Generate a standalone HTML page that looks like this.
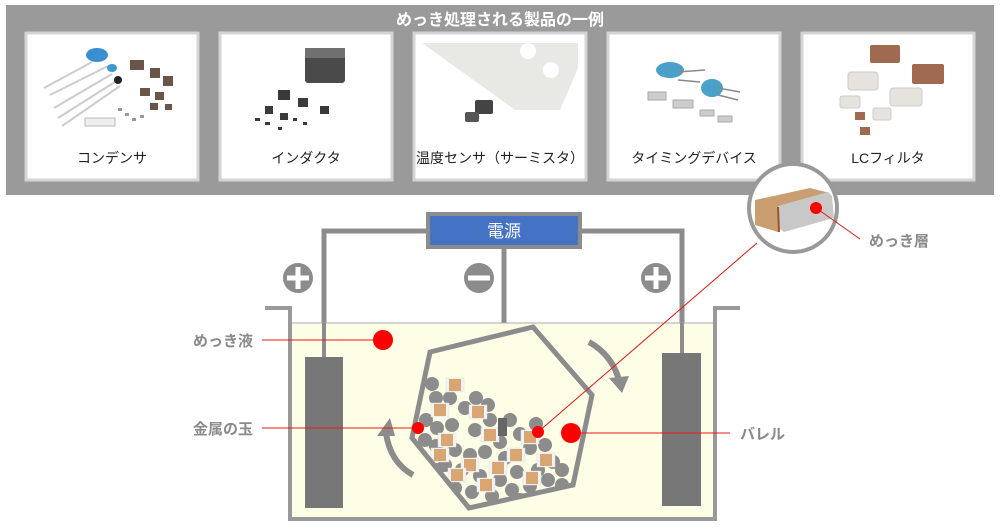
<!DOCTYPE html>
<html><head><meta charset="utf-8"><style>
html,body{margin:0;padding:0;background:#fff;}
svg{display:block;font-family:"Liberation Sans","Noto Sans CJK JP",sans-serif;}
</style></head><body>
<svg width="1000" height="529" viewBox="0 0 1000 529" xmlns="http://www.w3.org/2000/svg">
<defs>
<clipPath id="bc"><polygon points="430,352 533,327 592,395 573,485 469,508 412,438"/></clipPath>
<g id="chip"><rect x="-9" y="-7" width="18" height="14" fill="#f4f4f6" stroke="#ddd" stroke-width="0.5"/><rect x="-6" y="-6" width="12" height="12" fill="#d9a672"/></g>
</defs>
<!-- banner -->
<rect x="6" y="5" width="988" height="190" fill="#9a9a9a"/>
<text x="500" y="25" text-anchor="middle" font-size="16" font-weight="bold" fill="#fff">めっき処理される製品の一例</text>
<g fill="#fff" stroke="#d4d4d4" stroke-width="3">
<rect x="26" y="33" width="172" height="147"/>
<rect x="220" y="33" width="172" height="147"/>
<rect x="414" y="33" width="172" height="147"/>
<rect x="608" y="33" width="172" height="147"/>
<rect x="802" y="33" width="172" height="147"/>
</g>
<g font-size="14" fill="#222" text-anchor="middle">
<text x="112" y="163">コンデンサ</text>
<text x="306" y="163">インダクタ</text>
<text x="500" y="163">温度センサ（サーミスタ）</text>
<text x="694" y="163">タイミングデバイス</text>
<text x="888" y="163">LCフィルタ</text>
</g>
<!-- card1 products -->
<g stroke="#ccc" stroke-width="2"><line x1="44" y1="88" x2="92" y2="62"/><line x1="50" y1="95" x2="108" y2="66"/><line x1="54" y1="108" x2="112" y2="74"/><line x1="58" y1="118" x2="118" y2="80"/><line x1="62" y1="126" x2="120" y2="86"/></g>
<ellipse cx="97" cy="55" rx="11" ry="7" fill="#3a8fd0"/><ellipse cx="112" cy="68" rx="5" ry="4" fill="#3a9ad0"/><ellipse cx="118" cy="80" rx="4" ry="4" fill="#222"/>
<g fill="#6a5548"><rect x="130" y="60" width="14" height="10"/><rect x="150" y="68" width="10" height="10"/><rect x="163" y="76" width="10" height="10"/><rect x="140" y="88" width="10" height="8"/><rect x="155" y="92" width="9" height="8"/><rect x="150" y="103" width="8" height="7"/><rect x="165" y="104" width="7" height="6"/></g>
<rect x="85" y="118" width="30" height="8" fill="#eee" stroke="#bbb"/>
<g fill="#999"><rect x="118" y="108" width="4" height="3"/><rect x="125" y="113" width="4" height="3"/><rect x="132" y="118" width="4" height="3"/><rect x="140" y="115" width="4" height="3"/></g>
<!-- card2 -->
<rect x="305" y="48" width="40" height="35" rx="3" fill="#4a4a4a"/><rect x="305" y="48" width="40" height="10" fill="#707070"/>
<g fill="#3a3a3a"><rect x="278" y="90" width="12" height="10"/><rect x="298" y="98" width="10" height="9"/><rect x="320" y="106" width="9" height="8"/><rect x="265" y="106" width="8" height="8"/><rect x="280" y="113" width="8" height="7"/><rect x="255" y="118" width="5" height="3"/><rect x="265" y="122" width="5" height="3"/><rect x="293" y="118" width="4" height="3"/><rect x="303" y="122" width="4" height="3"/><rect x="278" y="127" width="4" height="3"/></g>
<!-- card3 -->
<polygon points="422,43 578,43 578,68 560,110 515,110" fill="#e8e8e4"/>
<circle cx="528" cy="51" r="8" fill="#fff"/><circle cx="551" cy="70" r="8" fill="#fff"/>
<rect x="475" y="100" width="18" height="14" rx="2" fill="#444"/><rect x="465" y="112" width="14" height="10" rx="2" fill="#555"/>
<!-- card4 -->
<ellipse cx="670" cy="70" rx="14" ry="8" fill="#4aa0c8"/><ellipse cx="712" cy="88" rx="11" ry="9" fill="#4aa0c8"/>
<g stroke="#888" stroke-width="1.5"><line x1="678" y1="72" x2="705" y2="70"/><line x1="678" y1="80" x2="700" y2="82"/><line x1="718" y1="88" x2="740" y2="92"/><line x1="718" y1="95" x2="738" y2="100"/></g>
<g fill="#ccc" stroke="#aaa"><rect x="648" y="92" width="18" height="8"/><rect x="673" y="100" width="20" height="8"/><rect x="700" y="110" width="14" height="6"/><rect x="718" y="116" width="14" height="6"/></g>
<!-- card5 -->
<g fill="#a06a50"><rect x="870" y="45" width="30" height="18" rx="2"/><rect x="912" y="64" width="32" height="20" rx="2"/><rect x="855" y="112" width="10" height="8"/><rect x="860" y="127" width="10" height="8"/></g>
<g fill="#e6e3df" stroke="#ccc"><rect x="848" y="72" width="30" height="18" rx="3"/><rect x="890" y="88" width="32" height="18" rx="3"/><rect x="840" y="96" width="20" height="12" rx="2"/><rect x="873" y="108" width="18" height="12" rx="2"/></g>
<!-- power -->
<g fill="none" stroke="#8c8c8c" stroke-width="5">
<polyline points="324,357 324,231 429,231"/><polyline points="580,231 682,231 682,353"/>
<line x1="504" y1="248" x2="504" y2="417"/>
</g>
<rect x="428" y="214" width="152" height="33" fill="#4472c4" stroke="#8c8c8c" stroke-width="4"/>
<text x="504" y="237" text-anchor="middle" font-size="17" fill="#fff">電源</text>
<!-- tank -->
<rect x="291" y="323" width="423" height="195" fill="#fefee6"/>
<line x1="291" y1="323" x2="714" y2="323" stroke="#aaa" stroke-width="1"/>
<polyline points="265,308 290,308 290,519 715,519 715,308 740,308" fill="none" stroke="#999" stroke-width="4"/>
<g fill="none" stroke="#8c8c8c" stroke-width="4"><line x1="324" y1="323" x2="324" y2="357"/><line x1="682" y1="323" x2="682" y2="353"/></g>
<rect x="305" y="357" width="38" height="151" fill="#777"/>
<rect x="662" y="353" width="39" height="153" fill="#777"/>
<!-- signs -->
<g fill="#8c8c8c"><circle cx="298" cy="278" r="15"/><circle cx="479" cy="278" r="15"/><circle cx="656" cy="278" r="15"/></g>
<g fill="#fff"><rect x="287" y="275.5" width="22" height="5"/><rect x="295.5" y="267" width="5" height="22"/><rect x="468" y="275.5" width="22" height="5"/><rect x="645" y="275.5" width="22" height="5"/><rect x="653.5" y="267" width="5" height="22"/></g>
<!-- particles -->
<g clip-path="url(#bc)">
<g fill="#8c8c8c">
<circle cx="432" cy="384" r="7"/><circle cx="436" cy="398" r="7"/><circle cx="476" cy="398" r="7"/><circle cx="450" cy="398" r="7"/><circle cx="488" cy="405" r="7"/><circle cx="465" cy="408" r="7"/><circle cx="510" cy="420" r="7"/><circle cx="426" cy="420" r="7"/><circle cx="437" cy="428" r="7"/><circle cx="452" cy="425" r="7"/><circle cx="490" cy="420" r="7"/><circle cx="475" cy="430" r="7"/><circle cx="520" cy="434" r="7"/><circle cx="500" cy="442" r="7"/><circle cx="536" cy="424" r="7"/><circle cx="436" cy="446" r="7"/><circle cx="455" cy="450" r="7"/><circle cx="485" cy="452" r="7"/><circle cx="505" cy="458" r="7"/><circle cx="530" cy="448" r="7"/><circle cx="545" cy="445" r="7"/><circle cx="553" cy="462" r="7"/><circle cx="538" cy="470" r="7"/><circle cx="445" cy="465" r="7"/><circle cx="462" cy="470" r="7"/><circle cx="480" cy="476" r="7"/><circle cx="500" cy="480" r="7"/><circle cx="517" cy="472" r="7"/><circle cx="455" cy="488" r="7"/><circle cx="472" cy="492" r="7"/><circle cx="492" cy="496" r="7"/><circle cx="512" cy="490" r="7"/><circle cx="530" cy="486" r="7"/><circle cx="548" cy="480" r="7"/><circle cx="562" cy="470" r="7"/><circle cx="437" cy="470" r="7"/><circle cx="470" cy="455" r="7"/><circle cx="425" cy="440" r="7"/><circle cx="562" cy="485" r="7"/><circle cx="520" cy="500" r="7"/>
</g>
<use href="#chip" x="455" y="385"/><use href="#chip" x="440" y="410"/><use href="#chip" x="478" y="412"/><use href="#chip" x="447" y="440"/><use href="#chip" x="490" y="435"/><use href="#chip" x="516" y="455"/><use href="#chip" x="470" y="465"/><use href="#chip" x="498" y="468"/><use href="#chip" x="530" y="437"/><use href="#chip" x="546" y="460"/><use href="#chip" x="532" y="478"/><use href="#chip" x="486" y="485"/><use href="#chip" x="457" y="475"/><use href="#chip" x="440" y="455"/>
<rect x="498" y="418" width="9" height="18" fill="#666"/>
</g>
<polygon points="430,352 533,327 592,395 573,485 469,508 412,438" fill="none" stroke="#8c8c8c" stroke-width="5"/>
<!-- rotation arrows -->
<path d="M589,342 Q612,355 619,380" fill="none" stroke="#8c8c8c" stroke-width="6"/>
<polygon points="609,378 629,376 622,393" fill="#8c8c8c"/>
<path d="M413,475 Q390,462 386,433" fill="none" stroke="#8c8c8c" stroke-width="6"/>
<polygon points="377,436 395,436 390,418" fill="#8c8c8c"/>
<!-- callout -->
<circle cx="793" cy="208" r="44" fill="#fff" stroke="#999" stroke-width="4"/>
<polygon points="755,200 810,188 830,193 780,208 778,232 755,225" fill="#c99e70"/>
<polygon points="778,206 828,192 832,196 834,218 784,232 778,228" fill="#c8c8c8"/>
<line x1="778" y1="207" x2="779" y2="232" stroke="#a0522d" stroke-width="2"/>
<!-- red lines -->
<g stroke="#e81818" stroke-width="1" fill="none">
<line x1="262" y1="340" x2="383" y2="340"/><line x1="262" y1="428" x2="418" y2="428"/><line x1="571" y1="433" x2="730" y2="433"/>
<line x1="538" y1="432" x2="757" y2="243"/><line x1="816" y1="208" x2="860" y2="239"/>
</g>
<g fill="#ff0000"><circle cx="383" cy="340" r="10"/><circle cx="418" cy="428" r="6"/><circle cx="538" cy="432" r="6"/><circle cx="571" cy="433" r="10"/><circle cx="816" cy="208" r="6"/></g>
<g font-size="15" font-weight="bold" fill="#8a8a8a">
<text x="193" y="346">めっき液</text>
<text x="193" y="434">金属の玉</text>
<text x="740" y="439">バレル</text>
<text x="869" y="246">めっき層</text>
</g>
</svg>
</body></html>
